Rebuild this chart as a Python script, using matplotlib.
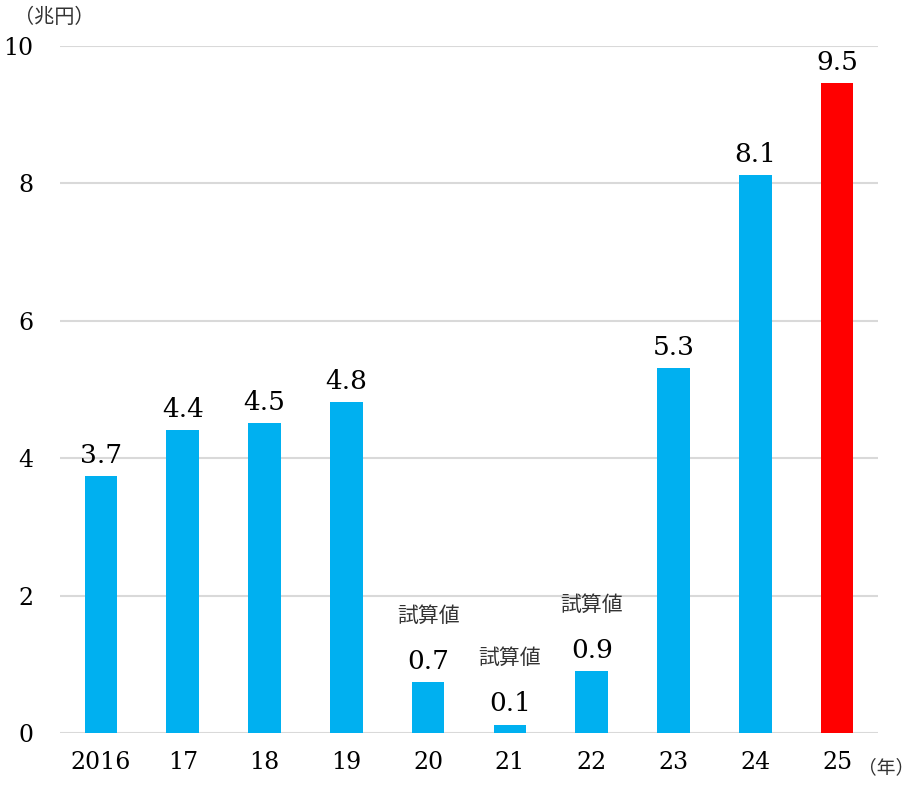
import matplotlib
matplotlib.use("Agg")
import matplotlib.pyplot as plt

years = ["2016", "17", "18", "19", "20", "21", "22", "23", "24", "25"]
values = [3.74, 4.41, 4.51, 4.82, 0.74, 0.12, 0.90, 5.31, 8.12, 9.46]
labels = ["3.7", "4.4", "4.5", "4.8", "0.7", "0.1", "0.9", "5.3", "8.1", "9.5"]
estimate_flags = [False, False, False, False, True, True, True, False, False, False]
colors = ["#00B0F0"] * 9 + ["#FF0000"]
yticks = [0, 2, 4, 6, 8, 10]

SERIF = ["DejaVu Serif", "Noto Sans CJK JP"]
CJK = ["Noto Sans CJK JP", "DejaVu Sans"]

fig = plt.figure(figsize=(9.15, 7.85), dpi=100)
ax = fig.add_axes([0.0656, 0.0662, 0.894, 0.8752])

x = list(range(len(years)))
ax.bar(x, values, width=0.40, color=colors, zorder=3)
ax.set_xlim(-0.5, len(years) - 0.5)
ax.set_ylim(0, 10)
ax.set_yticks(yticks)
ax.set_yticklabels([str(t) for t in yticks], family=SERIF, fontsize=17)
ax.set_xticks(x)
ax.set_xticklabels(years, family=SERIF, fontsize=17)
ax.tick_params(axis="both", length=0)
ax.tick_params(axis="y", pad=19)
ax.tick_params(axis="x", pad=13)
ax.grid(axis="y", color="#d9d9d9", linewidth=1.5, zorder=0)
for s in ax.spines.values():
    s.set_visible(False)

for xi, v, lab, est in zip(x, values, labels, estimate_flags):
    ax.annotate(lab, (xi, v), xytext=(0, 6), textcoords="offset points",
                ha="center", va="bottom", family=SERIF, fontsize=19, zorder=4)
    if est:
        ax.annotate("試算値", (xi, v), xytext=(0, 40), textcoords="offset points",
                    ha="center", va="bottom", family=CJK, fontsize=15,
                    color="#333333", zorder=4)

fig.text(0.0153, 0.978, "（兆円）", family=CJK, fontsize=14.5, ha="left", va="center", color="#333333")
fig.text(0.999, 0.0217, "（年）", family=CJK, fontsize=13.5, ha="right", va="center", color="#333333")

fig.savefig("out.png", dpi=100)
